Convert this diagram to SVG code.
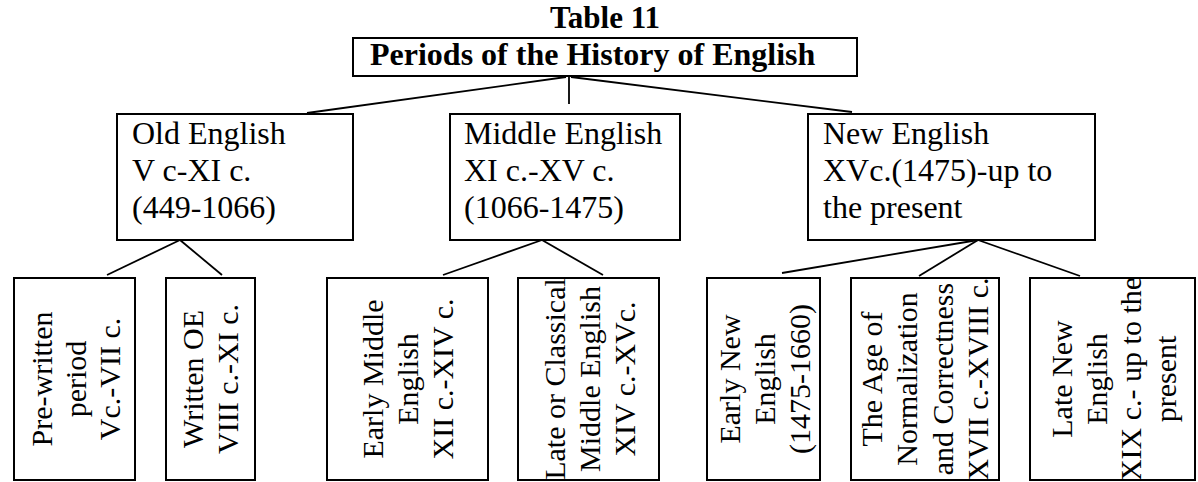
<svg xmlns="http://www.w3.org/2000/svg" width="1198" height="482" viewBox="0 0 1198 482">
<style>
.box{fill:#fff;stroke:#000;stroke-width:2}
.ln{stroke:#000;stroke-width:1.8;fill:none}
.t{font-family:"Liberation Serif","Times New Roman",serif;fill:#000}
.h{font-size:32px}
.v{font-size:30px;text-anchor:middle}
.b{font-weight:bold}
</style>
<rect width="1198" height="482" fill="#fff"/>
<g id="connectors">
<line class="ln" x1="566" y1="77" x2="307" y2="113"/>
<line class="ln" x1="571" y1="77" x2="852" y2="112"/>
<line class="ln" x1="569" y1="77" x2="569" y2="104"/>
<line class="ln" x1="180" y1="240" x2="107" y2="275"/>
<line class="ln" x1="180" y1="240" x2="222" y2="275"/>
<line class="ln" x1="542" y1="240" x2="443" y2="275"/>
<line class="ln" x1="542" y1="240" x2="603" y2="275"/>
<line class="ln" x1="978" y1="240" x2="782" y2="273"/>
<line class="ln" x1="978" y1="240" x2="919" y2="276"/>
<line class="ln" x1="978" y1="240" x2="1080" y2="276"/>
</g>
<g id="caption">
<text class="t b" x="605" y="28" font-size="31" text-anchor="middle">Table 11</text>
</g>
<g id="root">
<rect class="box" x="353" y="38" width="504" height="38"/>
<text class="t b" x="370" y="65" font-size="32">Periods of the History of English</text>
</g>
<g id="old">
<rect class="box" x="117" y="114" width="236" height="126"/>
<text class="t h"><tspan x="132" y="144">Old English</tspan><tspan x="132" y="181">V c-XI c.</tspan><tspan x="132" y="218">(449-1066)</tspan></text>
</g>
<g id="middle">
<rect class="box" x="450" y="114" width="230" height="126"/>
<text class="t h"><tspan x="464" y="144">Middle English</tspan><tspan x="464" y="181">XI c.-XV c.</tspan><tspan x="464" y="218">(1066-1475)</tspan></text>
</g>
<g id="new">
<rect class="box" x="808" y="114" width="287" height="126"/>
<text class="t h"><tspan x="823" y="144">New English</tspan><tspan x="823" y="181">XVc.(1475)-up to</tspan><tspan x="823" y="218">the present</tspan></text>
</g>
<g id="prewritten">
<rect class="box" x="14" y="278" width="121" height="202"/>
<text class="t v" transform="translate(52,379) rotate(-90)"><tspan x="0" y="0">Pre-written</tspan><tspan x="0" y="34">period</tspan><tspan x="0" y="68">Vc.-VII c.</tspan></text>
</g>
<g id="writtenoe">
<rect class="box" x="166" y="278" width="89" height="202"/>
<text class="t v" transform="translate(203,379) rotate(-90)"><tspan x="0" y="0">Written OE</tspan><tspan x="0" y="35">VIII c.-XI c.</tspan></text>
</g>
<g id="earlyme">
<rect class="box" x="327" y="278" width="161" height="202"/>
<text class="t v" transform="translate(383,379) rotate(-90)"><tspan x="0" y="0">Early Middle</tspan><tspan x="0" y="35">English</tspan><tspan x="0" y="70">XII c.-XIV c.</tspan></text>
</g>
<g id="lateme">
<rect class="box" x="518" y="278" width="141" height="202"/>
<text class="t v" transform="translate(565,379) rotate(-90)"><tspan x="0" y="0">Late or Classical</tspan><tspan x="0" y="35">Middle English</tspan><tspan x="0" y="70">XIV c.-XVc.</tspan></text>
</g>
<g id="earlyne">
<rect class="box" x="707" y="278" width="113" height="202"/>
<text class="t v" transform="translate(740,379) rotate(-90)"><tspan x="0" y="0">Early New</tspan><tspan x="0" y="35">English</tspan><tspan x="0" y="70">(1475-1660)</tspan></text>
</g>
<g id="normalization">
<rect class="box" x="851" y="278" width="148" height="202"/>
<text class="t v" transform="translate(882,379) rotate(-90)"><tspan x="0" y="0">The Age of</tspan><tspan x="0" y="35.3">Normalization</tspan><tspan x="0" y="70.6">and Correctness</tspan><tspan x="0" y="106">XVII c.-XVIII c.</tspan></text>
</g>
<g id="latene">
<rect class="box" x="1030" y="278" width="165" height="202"/>
<text class="t v" transform="translate(1072,379) rotate(-90)"><tspan x="0" y="0">Late New</tspan><tspan x="0" y="35">English</tspan><tspan x="0" y="69">XIX c.- up to the</tspan><tspan x="0" y="104">present</tspan></text>
</g>
</svg>
